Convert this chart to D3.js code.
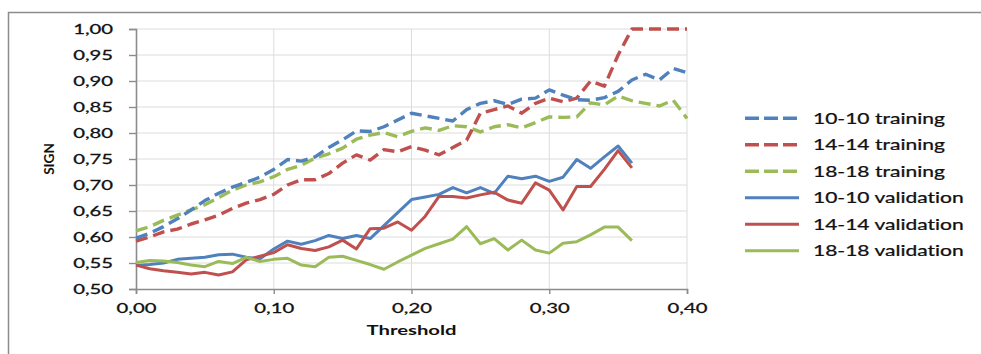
<!DOCTYPE html>
<html>
<head>
<meta charset="utf-8">
<script src="https://cdn.jsdelivr.net/npm/d3@7"></script>
<style>
  html, body { margin: 0; padding: 0; background: #fff; }
  svg { display: block; }
  text { font-family: Lato, "Open Sans", sans-serif; fill: #111; font-variant-ligatures: none; font-feature-settings: "liga" 0, "clig" 0; }
  text.soft { stroke: #111; stroke-width: 0.25px; }
</style>
</head>
<body>
<svg id="chart" width="981" height="354"></svg>
<script>
// Threshold values on the x axis (step 0.01)
const thresholds = [0.00,0.01,0.02,0.03,0.04,0.05,0.06,0.07,0.08,0.09,
  0.10,0.11,0.12,0.13,0.14,0.15,0.16,0.17,0.18,0.19,
  0.20,0.21,0.22,0.23,0.24,0.25,0.26,0.27,0.28,0.29,
  0.30,0.31,0.32,0.33,0.34,0.35,0.36,0.37,0.38,0.39,0.40];

// SIGN on the training sets (0.00 .. 0.40)
const train1010 = [0.598,0.607,0.620,0.635,0.652,0.670,0.684,0.696,0.705,0.715,
  0.730,0.749,0.746,0.754,0.772,0.787,0.804,0.803,0.812,0.825,
  0.838,0.833,0.828,0.823,0.845,0.857,0.862,0.855,0.865,0.867,
  0.883,0.873,0.864,0.863,0.868,0.880,0.902,0.913,0.902,0.924,0.916];
const train1414 = [0.592,0.600,0.610,0.615,0.625,0.633,0.642,0.655,0.665,0.672,
  0.682,0.700,0.710,0.710,0.722,0.742,0.758,0.748,0.768,0.764,
  0.774,0.767,0.758,0.772,0.786,0.838,0.845,0.852,0.838,0.857,
  0.867,0.860,0.867,0.900,0.890,0.950,1.000,1.000,1.000,1.000,1.000];
const train1818 = [0.612,0.620,0.632,0.642,0.652,0.662,0.676,0.690,0.700,0.706,
  0.716,0.730,0.738,0.752,0.760,0.771,0.788,0.796,0.801,0.793,
  0.803,0.810,0.805,0.814,0.812,0.802,0.812,0.816,0.810,0.820,
  0.831,0.830,0.831,0.858,0.854,0.871,0.862,0.857,0.852,0.863,0.828];

// SIGN on the validation sets (0.00 .. 0.36)
const valid1010 = [0.545,0.547,0.550,0.557,0.559,0.561,0.566,0.567,0.561,0.558,
  0.577,0.592,0.586,0.593,0.603,0.597,0.603,0.597,0.622,0.647,
  0.672,0.677,0.682,0.695,0.685,0.695,0.684,0.717,0.712,0.717,
  0.707,0.715,0.749,0.732,0.754,0.775,0.742];
const valid1414 = [0.546,0.539,0.535,0.532,0.529,0.532,0.527,0.533,0.556,0.563,
  0.570,0.585,0.578,0.574,0.581,0.594,0.577,0.616,0.617,0.629,
  0.613,0.640,0.678,0.678,0.675,0.681,0.686,0.671,0.665,0.704,
  0.690,0.652,0.697,0.697,0.730,0.766,0.733];
const valid1818 = [0.551,0.555,0.554,0.551,0.546,0.543,0.553,0.549,0.561,0.553,
  0.557,0.559,0.546,0.543,0.561,0.563,0.555,0.547,0.538,0.552,
  0.565,0.578,0.587,0.596,0.620,0.587,0.597,0.575,0.594,0.575,
  0.569,0.588,0.591,0.604,0.619,0.619,0.593];

const seriesNames = ["10-10 training","14-14 training","18-18 training",
  "10-10 validation","14-14 validation","18-18 validation"];
const seriesValues = [train1010, train1414, train1818, valid1010, valid1414, valid1818];
const seriesColors = ["#4f81bd","#c0504d","#9bbb59","#4f81bd","#c0504d","#9bbb59"];
const seriesDashed = [true, true, true, false, false, false];

const yTickValues = [0.50,0.55,0.60,0.65,0.70,0.75,0.80,0.85,0.90,0.95,1.00];
const xTickValues = [0.00,0.10,0.20,0.30,0.40];
const xTitle = "Threshold";
const yTitle = "SIGN";

// ---- layout ----
const plot = { left: 136, right: 687, top: 29, bottom: 289 };
const tickStretch = 1.62;   // wide figure glyphs
const legendStretch = 1.45;
const titleStretch = 1.45;

const svg = d3.select("#chart");
const x = d3.scaleLinear().domain([0, 0.4]).range([plot.left, plot.right]);
const y = d3.scaleLinear().domain([0.5, 1.0]).range([plot.bottom, plot.top]);
const fmt = v => d3.format(".2f")(v).replace(".", ",");

// outer frame (only the top and left edges are inside the view)
svg.append("path")
  .attr("d", "M8.5,354 V12.5 H981")
  .attr("fill", "none").attr("stroke", "#8c8c8c").attr("stroke-width", 1.5);

// gridlines
svg.append("g").selectAll("line.h").data(yTickValues.slice(1)).join("line")
  .attr("x1", plot.left).attr("x2", plot.right)
  .attr("y1", d => y(d)).attr("y2", d => y(d))
  .attr("stroke", "#dcdcdc").attr("stroke-width", 1);
svg.append("g").selectAll("line.v").data(xTickValues.slice(1)).join("line")
  .attr("x1", d => x(d)).attr("x2", d => x(d))
  .attr("y1", plot.top).attr("y2", plot.bottom)
  .attr("stroke", "#dcdcdc").attr("stroke-width", 1);

// axes
const yAxis = svg.append("g").attr("transform", `translate(${plot.left},0)`)
  .call(d3.axisLeft(y).tickValues(yTickValues).tickSize(7).tickFormat(fmt));
const xAxis = svg.append("g").attr("transform", `translate(0,${plot.bottom})`)
  .call(d3.axisBottom(x).tickValues(xTickValues).tickSize(5).tickFormat(fmt));
[yAxis, xAxis].forEach(g => {
  g.select(".domain").attr("stroke", "#8c8c8c").attr("stroke-width", 1.6);
  g.selectAll(".tick line").attr("stroke", "#8c8c8c").attr("stroke-width", 1.4);
});
yAxis.selectAll(".tick text")
  .attr("x", null).attr("dy", null)
  .attr("class", "soft")
  .attr("transform", `translate(-23,0) scale(${tickStretch},1)`)
  .attr("dominant-baseline", "central")
  .style("font-family", "Lato").style("font-size", "12.5px").attr("fill", "#111");
xAxis.selectAll(".tick text")
  .attr("y", null).attr("dy", null)
  .attr("class", "soft")
  .attr("transform", `translate(0,24) scale(${tickStretch},1)`)
  .style("font-family", "Lato").style("font-size", "12.5px").attr("fill", "#111");

// axis titles
svg.append("text")
  .attr("transform", `translate(${(plot.left + plot.right) / 2},335) scale(${titleStretch},1)`)
  .attr("text-anchor", "middle")
  .style("font-weight", "bold").style("font-size", "14px")
  .text(xTitle);
svg.append("text")
  .attr("transform", `translate(54,${(plot.top + plot.bottom) / 2}) rotate(-90)`)
  .attr("text-anchor", "middle")
  .style("font-weight", "bold").style("font-size", "13.5px")
  .text(yTitle);

// series lines
const line = d3.line()
  .x((d, i) => x(thresholds[i]))
  .y(d => y(d));
const order = [3, 4, 5, 2, 1, 0];
svg.append("g").selectAll("path").data(order).join("path")
  .attr("d", k => line(seriesValues[k]))
  .attr("fill", "none")
  .attr("stroke", k => seriesColors[k])
  .attr("stroke-width", k => seriesDashed[k] ? 3.4 : 3)
  .attr("stroke-dasharray", k => seriesDashed[k] ? "12,6" : null)
  .attr("stroke-linejoin", "round");

// legend
const legend = svg.append("g");
const rows = legend.selectAll("g").data(seriesNames).join("g")
  .attr("transform", (d, i) => `translate(745,${118.3 + i * 26.5})`);
rows.append("line")
  .attr("x1", 0).attr("x2", 54).attr("y1", 0).attr("y2", 0)
  .attr("stroke", (d, i) => seriesColors[i])
  .attr("stroke-width", (d, i) => seriesDashed[i] ? 3.4 : 3)
  .attr("stroke-dasharray", (d, i) => seriesDashed[i] ? "14,5" : null);
rows.append("text")
  .attr("class", "soft")
  .attr("transform", `translate(68,0) scale(${legendStretch},1)`)
  .attr("dominant-baseline", "central")
  .style("font-size", "14.5px")
  .text(d => d);
</script>
</body>
</html>
